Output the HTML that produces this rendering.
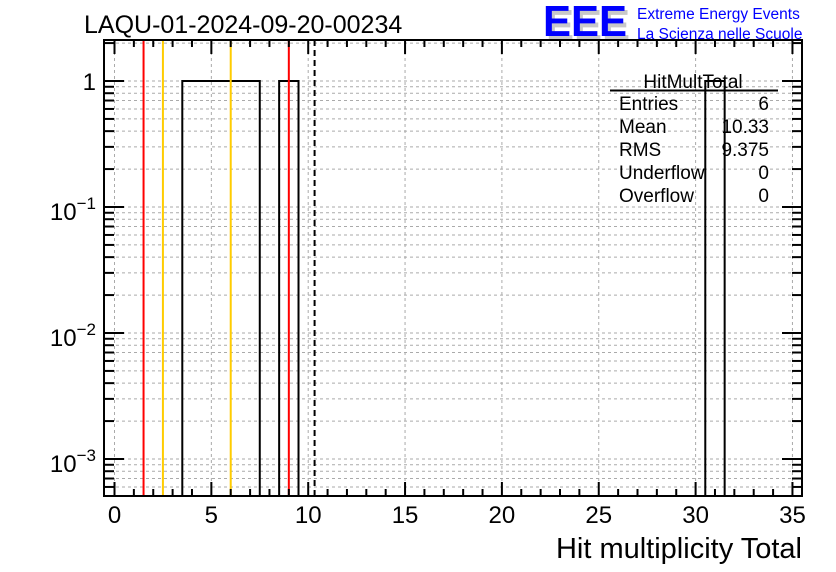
<!DOCTYPE html>
<html><head><meta charset="utf-8"><style>
body{margin:0;background:#fff}
svg{display:block;font-family:"Liberation Sans",sans-serif}
</style></head><body>
<svg id="c" width="836" height="572">
<text x="84" y="33" font-size="25">LAQU-01-2024-09-20-00234</text>
<g>
<text x="546" y="40" font-size="44" font-weight="bold" fill="#c8c8c8" textLength="84" lengthAdjust="spacingAndGlyphs">EEE</text>
<text x="543" y="36" font-size="44" font-weight="bold" fill="#0000ff" textLength="84" lengthAdjust="spacingAndGlyphs">EEE</text>
<text x="637" y="19" font-size="15.5" fill="#0000ff">Extreme Energy Events</text>
<text x="637" y="39" font-size="15.5" fill="#0000ff">La Scienza nelle Scuole</text>
</g>
<g id="grid"></g><g id="bars"></g><g id="lines"></g><g id="axes"></g>
<g font-size="19">
<text x="693" y="88" text-anchor="middle">HitMultTotal</text>
<line x1="610" y1="90.5" x2="778" y2="90.5" stroke="#000" stroke-width="2"/>
<text x="619" y="110">Entries</text><text x="769" y="110" text-anchor="end">6</text>
<text x="619" y="133">Mean</text><text x="769" y="133" text-anchor="end">10.33</text>
<text x="619" y="156">RMS</text><text x="769" y="156" text-anchor="end">9.375</text>
<text x="619" y="179">Underflow</text><text x="769" y="179" text-anchor="end">0</text>
<text x="619" y="202">Overflow</text><text x="769" y="202" text-anchor="end">0</text>
</g>
<text x="802" y="558" font-size="29" text-anchor="end">Hit multiplicity Total</text>
</svg>
<script>
const binCenters=[4,5,6,7,9,31];
const binCounts=[1,1,1,1,1,1];
const xTicks=[0,5,10,15,20,25,30,35];
const yDecades=[0,-1,-2,-3];
const vLines=[1.5,2.5,6,9];
const vColors=["#ff0000","#ffcc00","#ffcc00","#ff0000"];
const meanVal=10.33;
const L=104,R=802,T=40,B=496;
const X=v=>114.5+v*19.37;
const Y=v=>81-126*Math.log10(v);
const NS="http://www.w3.org/2000/svg";
function mk(p,t,a){const e=document.createElementNS(NS,t);for(const k in a)e.setAttribute(k,a[k]);document.getElementById(p).appendChild(e);return e;}
for(const t of xTicks){const g=mk('grid','line',{x1:X(t),x2:X(t),y1:T,y2:B,stroke:'#aaa','stroke-dasharray':'3,3'});

}
for(let d=1;d>=-4;d--)for(let m=1;m<10;m++){const v=m*Math.pow(10,d);const y=Y(v);if(y<T||y>B)continue;
const g=mk('grid','line',{x1:L,x2:R,y1:y,y2:y,stroke:'#aaa','stroke-dasharray':'3,3'});


const tl=m==1?20:10;
const a=mk('axes','line',{x1:L,x2:L+tl,y1:y,y2:y,stroke:'#000','stroke-width':2});


const b=mk('axes','line',{x1:R-tl,x2:R,y1:y,y2:y,stroke:'#000','stroke-width':2});

}
// histogram outline: merge contiguous bins
const order=binCenters.map((c,i)=>[c,binCounts[i]]).sort((a,b)=>a[0]-b[0]);
let d='';
for(let i=0;i<order.length;i++){
  const [c,n]=order[i];const prev=order[i-1];
  const y=Y(n);
  if(!prev||prev[0]!==c-1){d+=`M${X(c-0.5)},${B} V${y} `;}
  else{d+=`V${y} `;}
  d+=`H${X(c+0.5)} `;
  const next=order[i+1];
  if(!next||next[0]!==c+1){d+=`V${B} `;}
}
const hp=mk('bars','path',{d:d,fill:'none',stroke:'#000','stroke-width':2});


vLines.forEach((v,i)=>{const l=mk('lines','line',{x1:X(v),x2:X(v),y1:T,y2:B,stroke:vColors[i],'stroke-width':2});

});
const ml=mk('lines','line',{x1:X(meanVal),x2:X(meanVal),y1:T,y2:B,stroke:'#000','stroke-width':2,'stroke-dasharray':'6,4'});


const fr=mk('axes','rect',{x:L,y:T,width:R-L,height:B-T,fill:'none',stroke:'#000','stroke-width':2});


for(let v=0;v<=35;v++){const tl=v%5==0?14:7;
const a=mk('axes','line',{x1:X(v),x2:X(v),y1:B,y2:B-tl,stroke:'#000','stroke-width':2});


const b=mk('axes','line',{x1:X(v),x2:X(v),y1:T,y2:T+tl,stroke:'#000','stroke-width':2});

}
xTicks.forEach(t=>{const e=mk('axes','text',{x:X(t),y:523,'font-size':24,'text-anchor':'middle'});e.textContent=t;

});
yDecades.forEach(d=>{const y=Y(Math.pow(10,d));let e;
if(d==0){e=mk('axes','text',{x:96,y:y+9,'font-size':24,'text-anchor':'end'});e.textContent='1';}
else{e=mk('axes','text',{x:96,y:y+13,'font-size':24,'text-anchor':'end'});
e.innerHTML='10<tspan dy="-11" font-size="17">−'+(-d)+'</tspan>';}

});
</script>
</body></html>
